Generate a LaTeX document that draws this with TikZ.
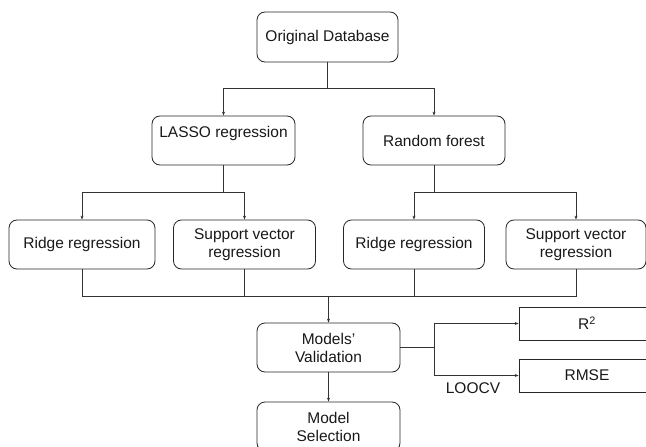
\documentclass[tikz,border=0pt]{standalone}
\usepackage{fontspec}
\setmainfont{Liberation Sans}
\usetikzlibrary{arrows.meta}
\begin{document}
\begin{tikzpicture}[x=1pt,y=-1pt,
  every node/.style={font=\fontsize{15.5}{18}\selectfont, text=black!90},
  box/.style={draw=black!85, line width=0.8pt, rounded corners=8pt, align=center, inner sep=0pt},
  sqbox/.style={draw=black!85, line width=0.8pt, align=center, inner sep=0pt},
  ln/.style={draw=black!80, line width=0.8pt},
  arr/.style={ln, -{Stealth[length=4pt,width=3pt]}}]
\useasboundingbox (0,0) rectangle (646,447);
\clip (0,0) rectangle (646,447);
\fill[white] (0,0) rectangle (646,447);
% nodes
\node[box, minimum width=141pt, minimum height=50pt] (orig) at (327.5,37) {Original Database};
\node[box, minimum width=143pt, minimum height=49pt] (lasso) at (223.5,140.5) {LASSO regression\\\mbox{}};
\node[box, minimum width=142pt, minimum height=49pt] (rf) at (434,140.5) {Random forest};
\node[box, minimum width=146pt, minimum height=49pt] (r1) at (82,244.5) {Ridge regression};
\node[box, minimum width=142pt, minimum height=49pt] (s1) at (244.5,244.5) {Support vector\\regression};
\node[box, minimum width=141pt, minimum height=49pt] (r2) at (414,244.5) {Ridge regression};
\node[box, minimum width=140pt, minimum height=49pt] (s2) at (576,244.5) {Support vector\\regression};
\node[box, minimum width=143pt, minimum height=49pt] (mv) at (328.5,347.5) {Models'\\Validation};
\node[box, minimum width=143pt, minimum height=49pt] (ms) at (328.5,426.5) {Model\\Selection};
\node[sqbox, minimum width=136pt, minimum height=33pt] (rsq) at (587,323.5) {R\textsuperscript{2}};
\node[sqbox, minimum width=136pt, minimum height=33pt] (rmse) at (587,375.5) {RMSE};
\node (loocv) at (473,388) {LOOCV};
% connectors
\draw[arr] (orig.south) -- ++(0,26) -| (lasso.north);
\draw[arr] (orig.south) -- ++(0,26) -| (rf.north);
\draw[arr] (lasso.south) -- ++(0,27) -| (r1.north);
\draw[arr] (lasso.south) -- ++(0,27) -| (s1.north);
\draw[arr] (rf.south) -- ++(0,27) -| (r2.north);
\draw[arr] (rf.south) -- ++(0,27) -| (s2.north);
\draw[ln] (r1.south) -- ++(0,27) -| (s2.south);
\draw[ln] (s1.south) -- ++(0,27);
\draw[ln] (r2.south) -- ++(0,27);
\coordinate (j1) at (328.5,296);
\draw[arr] (j1) -- (mv.north);
\draw[arr] (mv.south) -- (ms.north);
\draw[ln] (mv.east) -- ++(34,0) coordinate (j2);
\draw[arr] (j2) |- (rsq.west);
\draw[arr] (j2) |- (rmse.west);
\end{tikzpicture}
\end{document}
